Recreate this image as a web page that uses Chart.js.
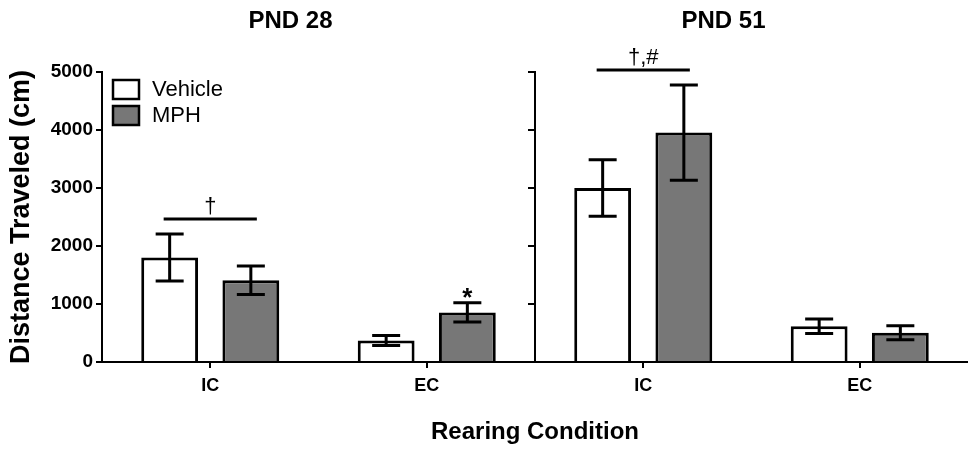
<!DOCTYPE html>
<html>
<head>
<meta charset="utf-8">
<script src="https://cdn.jsdelivr.net/npm/chart.js@4.4.1/dist/chart.umd.min.js"></script>
<style>
  body { margin: 0; background: #fff; }
</style>
</head>
<body>
<canvas id="myChart" width="968" height="451"></canvas>
<script>
// data
const categories = ['IC', 'EC', 'IC', 'EC'];
const panelTitles = ['PND 28', 'PND 51'];
const seriesNames = ['Vehicle', 'MPH'];
const vehicle = [1800, 370, 3000, 615];
const vehicleErr = [405, 85, 485, 125];
const mph = [1410, 855, 3955, 505];
const mphErr = [245, 165, 820, 120];
// significance marks
const bracketLabels = ['\u2020', '', '\u2020,#', ''];
const mphStars = ['', '*', '', ''];
const yTicks = [0, 1000, 2000, 3000, 4000, 5000];

const FONT = "'Liberation Sans', Arial, sans-serif";
Chart.defaults.font.family = FONT;
Chart.defaults.color = '#000';

// error bars on top of the bars
const errorBars = {
  id: 'errorBars',
  afterDatasetsDraw(chart) {
    const ctx = chart.ctx;
    const y = chart.scales.y;
    [vehicleErr, mphErr].forEach((errs, d) => {
      const vals = chart.data.datasets[d].data;
      chart.getDatasetMeta(d).data.forEach((bar, i) => {
        const top = y.getPixelForValue(vals[i] + errs[i]);
        const bot = y.getPixelForValue(vals[i] - errs[i]);
        ctx.save();
        ctx.strokeStyle = '#000';
        ctx.lineWidth = 3;
        ctx.beginPath();
        ctx.moveTo(bar.x, top); ctx.lineTo(bar.x, bot);
        ctx.moveTo(bar.x - 14, top); ctx.lineTo(bar.x + 14, top);
        ctx.moveTo(bar.x - 14, bot); ctx.lineTo(bar.x + 14, bot);
        ctx.stroke();
        ctx.restore();
      });
    });
  }
};

// panel divider, panel titles, significance marks, legend
const extras = {
  id: 'extras',
  afterDraw(chart) {
    const ctx = chart.ctx;
    const x = chart.scales.x;
    const y = chart.scales.y;
    const area = chart.chartArea;
    ctx.save();
    ctx.strokeStyle = '#000';
    ctx.fillStyle = '#000';

    // divider between the two ages, with its own ticks
    const divX = (x.getPixelForValue(1) + x.getPixelForValue(2)) / 2;
    ctx.lineWidth = 2;
    ctx.beginPath();
    ctx.moveTo(divX, y.getPixelForValue(5000) - 1);
    ctx.lineTo(divX, area.bottom);
    yTicks.forEach(t => {
      const py = y.getPixelForValue(t);
      ctx.moveTo(divX - 7, py); ctx.lineTo(divX, py);
    });
    ctx.stroke();

    // panel titles
    ctx.font = 'bold 24px ' + FONT;
    ctx.textAlign = 'center';
    ctx.textBaseline = 'middle';
    panelTitles.forEach((t, p) => {
      const cx = (x.getPixelForValue(p * 2) + x.getPixelForValue(p * 2 + 1)) / 2 - 28;
      ctx.fillText(t, cx, 21);
    });

    // brackets between vehicle and MPH
    const m0 = chart.getDatasetMeta(0).data;
    const m1 = chart.getDatasetMeta(1).data;
    bracketLabels.forEach((lab, i) => {
      if (!lab) return;
      const hi = Math.max(vehicle[i] + vehicleErr[i], mph[i] + mphErr[i]);
      const ly = y.getPixelForValue(hi) - 15;
      ctx.lineWidth = 3;
      ctx.beginPath();
      ctx.moveTo(m0[i].x - 6, ly); ctx.lineTo(m1[i].x + 6, ly);
      ctx.stroke();
      ctx.font = '22px ' + FONT;
      ctx.textBaseline = 'alphabetic';
      ctx.fillText(lab, (m0[i].x + m1[i].x) / 2, ly - 6);
    });
    mphStars.forEach((s, i) => {
      if (!s) return;
      const top = y.getPixelForValue(mph[i] + mphErr[i]);
      ctx.font = 'bold 26px ' + FONT;
      ctx.textBaseline = 'alphabetic';
      ctx.fillText(s, m1[i].x, top + 3);
    });

    // legend
    const colors = chart.data.datasets.map(ds => ds.backgroundColor);
    ctx.textAlign = 'left';
    ctx.textBaseline = 'middle';
    ctx.font = '22px ' + FONT;
    seriesNames.forEach((n, k) => {
      const by = 80 + k * 26;
      ctx.fillStyle = colors[k];
      ctx.fillRect(113, by, 26, 19);
      ctx.lineWidth = 2.5;
      ctx.strokeRect(113, by, 26, 19);
      ctx.fillStyle = '#000';
      ctx.fillText(n, 152, by + 10);
    });
    ctx.restore();
  }
};

const ctx = document.getElementById('myChart').getContext('2d');
const myChart = new Chart(ctx, {
  type: 'bar',
  data: {
    labels: categories,
    datasets: [{
      label: seriesNames[0],
      data: vehicle,
      backgroundColor: '#ffffff',
      borderColor: '#000',
      borderWidth: 3,
      barPercentage: 0.7,
      categoryPercentage: 0.75
    }, {
      label: seriesNames[1],
      data: mph,
      backgroundColor: '#777777',
      borderColor: '#000',
      borderWidth: 3,
      barPercentage: 0.7,
      categoryPercentage: 0.75
    }]
  },
  options: {
    responsive: false,
    animation: false,
    devicePixelRatio: 1,
    layout: { padding: { top: 72, right: 0, left: 0, bottom: 0 } },
    plugins: {
      legend: { display: false },
      tooltip: { enabled: false }
    },
    scales: {
      x: {
        grid: { offset: false, drawOnChartArea: false, color: '#000', lineWidth: 2, tickLength: 6 },
        border: { color: '#000', width: 2 },
        ticks: { font: { size: 18, weight: 'bold' }, color: '#000', padding: 7 },
        title: {
          display: true, text: 'Rearing Condition', color: '#000',
          font: { size: 24, weight: 'bold' }, padding: { top: 0, bottom: 4 }
        },
        afterFit: s => { s.height = 89; }
      },
      y: {
        min: 0,
        max: 5000,
        grid: { drawOnChartArea: false, color: '#000', lineWidth: 2, tickLength: 6 },
        border: { color: '#000', width: 2 },
        ticks: {
          stepSize: 1000, font: { size: 19, weight: 'bold' }, color: '#000', padding: 3,
          callback: v => String(v)
        },
        title: {
          display: true, text: 'Distance Traveled (cm)', color: '#000',
          font: { size: 27, weight: 'bold' }, padding: { top: 5, bottom: 0 }
        },
        afterFit: s => { s.width = 102; }
      }
    }
  },
  plugins: [errorBars, extras]
});
</script>
</body>
</html>
